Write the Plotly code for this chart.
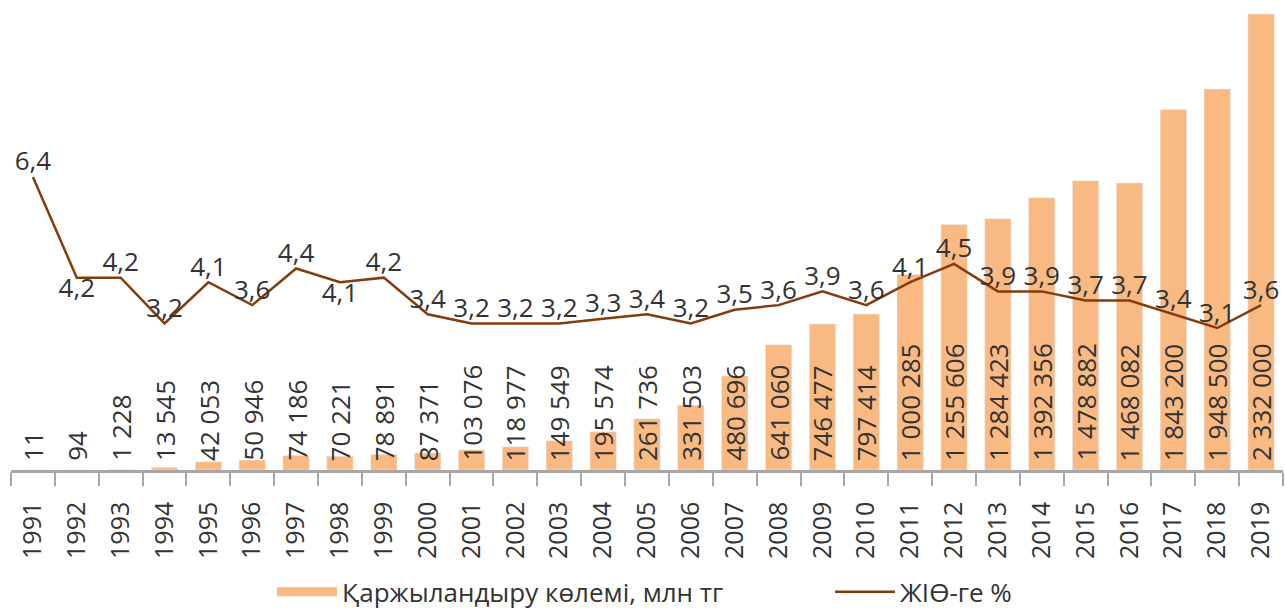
import plotly.graph_objects as go

years = [str(y) for y in range(1991, 2020)]
funding = [11, 94, 1228, 13545, 42053, 50946, 74186, 70221, 78891, 87371,
           103076, 118977, 149549, 195574, 261736, 331503, 480696, 641060,
           746477, 797414, 1000285, 1255606, 1284423, 1392356, 1478882,
           1468082, 1843200, 1948500, 2332000]
gdp_share = [6.4, 4.2, 4.2, 3.2, 4.1, 3.6, 4.4, 4.1, 4.2, 3.4, 3.2, 3.2, 3.2,
             3.3, 3.4, 3.2, 3.5, 3.6, 3.9, 3.6, 4.1, 4.5, 3.9, 3.9, 3.7, 3.7,
             3.4, 3.1, 3.6]
bar_name = "Қаржыландыру көлемі, млн тг"
line_name = "ЖІӨ-ге %"

BAR_C = "#F8B982"
LINE_C = "#843C0C"
TXT_C = "#333333"
FONT = "Open Sans, Noto Sans, sans-serif"


def fmt_int(v):
    return f"{v:,}".replace(",", " ")


def fmt_dec(v):
    return f"{v:.1f}".replace(".", ",")


line_pos = ["bottom center" if y in ("1992", "1998") else "top center" for y in years]

fig = go.Figure()
fig.add_trace(go.Bar(x=years, y=funding, marker_color=BAR_C, width=0.6,
                     showlegend=False, name=bar_name))
fig.add_trace(go.Scatter(x=years, y=gdp_share, yaxis="y2", mode="lines+text",
                         line=dict(color=LINE_C, width=2.5),
                         text=[fmt_dec(v) for v in gdp_share],
                         textposition=line_pos,
                         textfont=dict(size=26, color=TXT_C, family=FONT),
                         cliponaxis=False, showlegend=False, name=line_name))
# legend entries
fig.add_trace(go.Scatter(x=[None], y=[None], mode="lines", name=bar_name,
                         line=dict(color=BAR_C, width=9), legend="legend"))
fig.add_trace(go.Scatter(x=[None], y=[None], mode="lines", name=line_name,
                         line=dict(color=LINE_C, width=2.5), legend="legend2"))

for i, v in enumerate(funding):
    fig.add_annotation(x=i, y=0, xref="x", yref="y", text=fmt_int(v),
                       textangle=-90, showarrow=False, yanchor="bottom",
                       yshift=7, font=dict(size=26, color=TXT_C, family=FONT))

leg_common = dict(orientation="h", xanchor="left", y=-0.259, yanchor="middle",
                  font=dict(size=26, color=TXT_C, family=FONT), itemwidth=60,
                  bgcolor="rgba(0,0,0,0)")

fig.update_layout(
    width=1285, height=611,
    margin=dict(l=11, r=2, t=0, b=141, autoexpand=False),
    paper_bgcolor="white", plot_bgcolor="white",
    font=dict(family=FONT, color=TXT_C),
    xaxis=dict(type="category", range=[-0.5, 28.5], showline=True,
               linecolor="#A6A6A6", linewidth=2.5, ticks="outside",
               tickson="boundaries", ticklen=13, tickwidth=2,
               tickcolor="#A6A6A6", tickangle=-90, ticklabelstandoff=19,
               tickfont=dict(size=25, color=TXT_C, family=FONT),
               showgrid=False, automargin=False),
    yaxis=dict(range=[0, 2332000 * 470 / 456], visible=False, showgrid=False),
    yaxis2=dict(range=[0, 470 / 45.8], overlaying="y", visible=False,
                showgrid=False),
    legend=dict(x=(272 - 11) / 1272, **leg_common),
    legend2=dict(x=(830 - 11) / 1272, **leg_common),
    bargap=0.4,
)

fig.write_html("out.html", config={"displayModeBar": False},
               post_script="document.body.style.margin='0';document.body.style.padding='0';")
